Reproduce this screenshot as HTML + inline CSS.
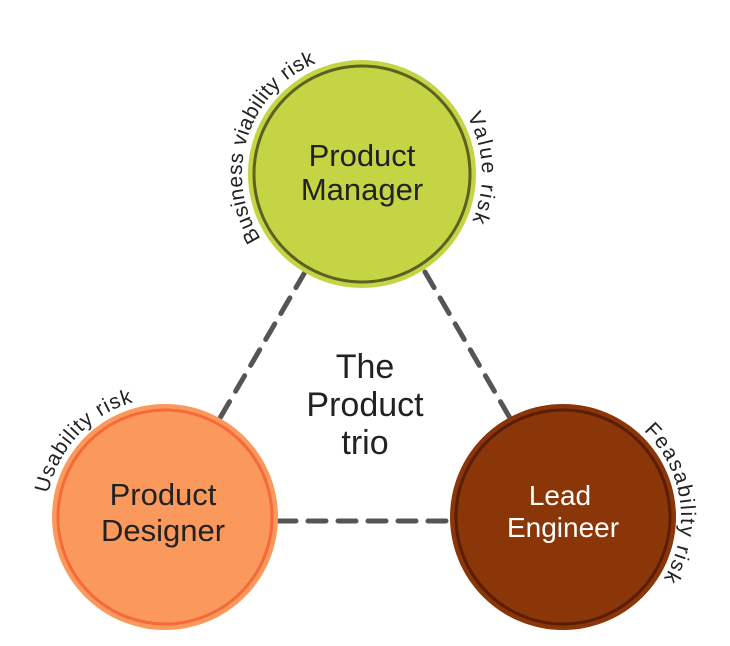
<!DOCTYPE html>
<html><head><meta charset="utf-8"><style>
html,body{margin:0;padding:0;background:#fff;}
svg{display:block;}
text{font-family:"Liberation Sans","DejaVu Sans",sans-serif;}
</style></head><body>
<svg width="730" height="646" viewBox="0 0 730 646" xmlns="http://www.w3.org/2000/svg">
<defs>
<path id="pBus" d="M273.5,255.1 A120,120 0 0 1 336,56.8"/>
<path id="pVal" d="M463.2,109.5 A120,120 0 0 1 468.4,229.4"/>
<path id="pUse" d="M58.5,570.1 A119,119 0 0 1 172.3,398.2"/>
<path id="pFea" d="M601.4,405.4 A118,118 0 0 1 640.4,606.1"/>
</defs>
<g stroke="#555" stroke-width="5" stroke-dasharray="18 12" stroke-linecap="round" fill="none">
<line x1="305" y1="272" x2="220" y2="418"/>
<line x1="425" y1="272" x2="510" y2="418"/>
<line x1="278" y1="521" x2="450" y2="521"/>
</g>
<circle cx="362" cy="174" r="114" fill="#c5d444"/>
<circle cx="362" cy="174" r="108" fill="none" stroke="#5b6120" stroke-width="3"/>
<circle cx="165" cy="517" r="113" fill="#fb995d"/>
<circle cx="165" cy="517" r="107" fill="none" stroke="#f46a3a" stroke-width="3"/>
<circle cx="563" cy="517" r="113" fill="#8b3608"/>
<circle cx="563" cy="517" r="107" fill="none" stroke="#5a1d05" stroke-width="3"/>
<g fill="#222" font-size="31" text-anchor="middle">
<text x="362" y="166">Product</text>
<text x="362" y="200">Manager</text>
<text x="163" y="505">Product</text>
<text x="163" y="541">Designer</text>
<text x="365" y="378" font-size="34">The</text>
<text x="365" y="416" font-size="34">Product</text>
<text x="365" y="454" font-size="34">trio</text>
</g>
<g fill="#fff" font-size="28" text-anchor="middle">
<text x="560" y="505">Lead</text>
<text x="563" y="537">Engineer</text>
</g>
<g fill="#222" font-size="21" text-anchor="middle">
<text letter-spacing="0.5"><textPath href="#pBus" startOffset="50%">Business viability risk</textPath></text>
<text letter-spacing="2"><textPath href="#pVal" startOffset="50%">Value risk</textPath></text>
<text letter-spacing="1"><textPath href="#pUse" startOffset="58%">Usability risk</textPath></text>
<text letter-spacing="1.5"><textPath href="#pFea" startOffset="53%">Feasability risk</textPath></text>
</g>
</svg>
</body></html>
